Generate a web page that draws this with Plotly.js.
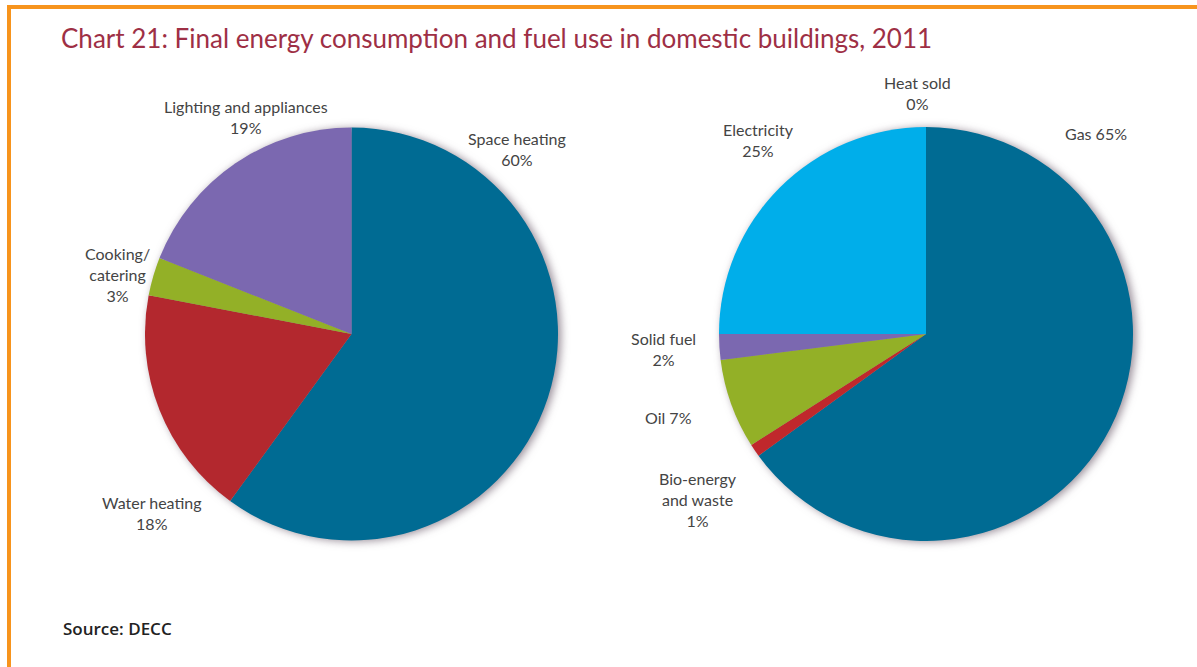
<!DOCTYPE html>
<html>
<head>
<meta charset="utf-8">
<script src="https://cdn.plot.ly/plotly-3.0.1.min.js"></script>
<style>
  html, body { margin: 0; padding: 0; background: #fff; }
  #wrap { position: relative; width: 1197px; height: 667px; overflow: hidden; }
  #chart { width: 1197px; height: 667px; }
  #frame { position: absolute; left: 7px; top: 5px; right: 0; bottom: -10px;
           border-top: 4px solid #F7941D; border-left: 4px solid #F7941D; pointer-events: none; }
  .pielayer .trace { filter: drop-shadow(3px 1px 4px rgba(70,50,70,0.55)); }
</style>
</head>
<body>
<div id="wrap"><div id="chart"></div><div id="frame"></div></div>
<script>
// ---- Data ----
const endUseLabels = ["Space heating", "Water heating", "Cooking/catering", "Lighting and appliances"];
const endUseValues = [60, 18, 3, 19];

const fuelLabels = ["Gas", "Bio-energy and waste", "Oil", "Solid fuel", "Electricity", "Heat sold"];
const fuelValues = [65, 1, 7, 2, 25, 0];

const chartTitle = "Chart 21: Final energy consumption and fuel use in domestic buildings, 2011";
const sourceNote = "Source: DECC";

// ---- Styling ----
const endUseColors = ["#006B93", "#B3282E", "#93B027", "#7B68B0"];
const fuelColors   = ["#006B93", "#C0282C", "#93B027", "#7B68B0", "#00AEEA", "#F0A030"];

const W = 1197, H = 667;
const px = x => x / W;
const py = y => 1 - y / H;

// label placement (pixel centres) and line-break style for each slice label
const endUseLabelPos = [
  {x: 517, y: 149},
  {x: 152, y: 513},
  {x: 117, y: 275, text: l => l.replace("/", "/<br>")},
  {x: 246, y: 117}
];
const fuelLabelPos = [
  {x: 1096, y: 133, inline: true},
  {x: 698, y: 499, text: l => l.replace(" and", "<br>and")},
  {x: 668, y: 418, inline: true},
  {x: 663, y: 349},
  {x: 758, y: 140},
  {x: 917, y: 93}
];

const labelFont = {family: "Lato, 'Open Sans', sans-serif", size: 16, color: "#444444"};

function makeAnnots(labels, values, pos) {
  return labels.map((lab, i) => {
    const p = pos[i];
    const name = p.text ? p.text(lab) : lab;
    const txt = p.inline ? name + " " + values[i] + "%" : name + "<br>" + values[i] + "%";
    return {
      xref: "paper", yref: "paper", x: px(p.x), y: py(p.y),
      xanchor: "center", yanchor: "middle", showarrow: false,
      text: txt, font: labelFont, align: "center"
    };
  });
}

const traces = [
  {
    type: "pie", labels: endUseLabels, values: endUseValues,
    sort: false, direction: "clockwise", rotation: 0,
    marker: {colors: endUseColors, line: {width: 0}},
    textinfo: "none", hoverinfo: "label+percent",
    domain: {x: [px(145), px(558)], y: [py(541), py(127)]},
    showlegend: false
  },
  {
    type: "pie", labels: fuelLabels, values: fuelValues,
    sort: false, direction: "clockwise", rotation: 0,
    marker: {colors: fuelColors, line: {width: 0}},
    textinfo: "none", hoverinfo: "label+percent",
    domain: {x: [px(719), px(1133)], y: [py(541), py(127)]},
    showlegend: false
  }
];

const annotations = [
  ...makeAnnots(endUseLabels, endUseValues, endUseLabelPos),
  ...makeAnnots(fuelLabels, fuelValues, fuelLabelPos),
  {
    xref: "paper", yref: "paper", x: px(61), y: py(628),
    xanchor: "left", yanchor: "middle", showarrow: false,
    text: sourceNote,
    font: {family: "'Open Sans', sans-serif", size: 17, weight: 600, color: "#222"}
  }
];

const layout = {
  width: W, height: H,
  margin: {l: 0, r: 0, t: 0, b: 0},
  paper_bgcolor: "#fff",
  title: {
    text: chartTitle,
    x: px(61), xanchor: "left", xref: "paper",
    y: py(39), yanchor: "middle", yref: "container",
    font: {family: "Lato, 'Open Sans', sans-serif", size: 26, color: "#9E2F45"}
  },
  annotations: annotations,
  showlegend: false
};

Plotly.newPlot("chart", traces, layout, {displayModeBar: false, staticPlot: true});
</script>
</body>
</html>
